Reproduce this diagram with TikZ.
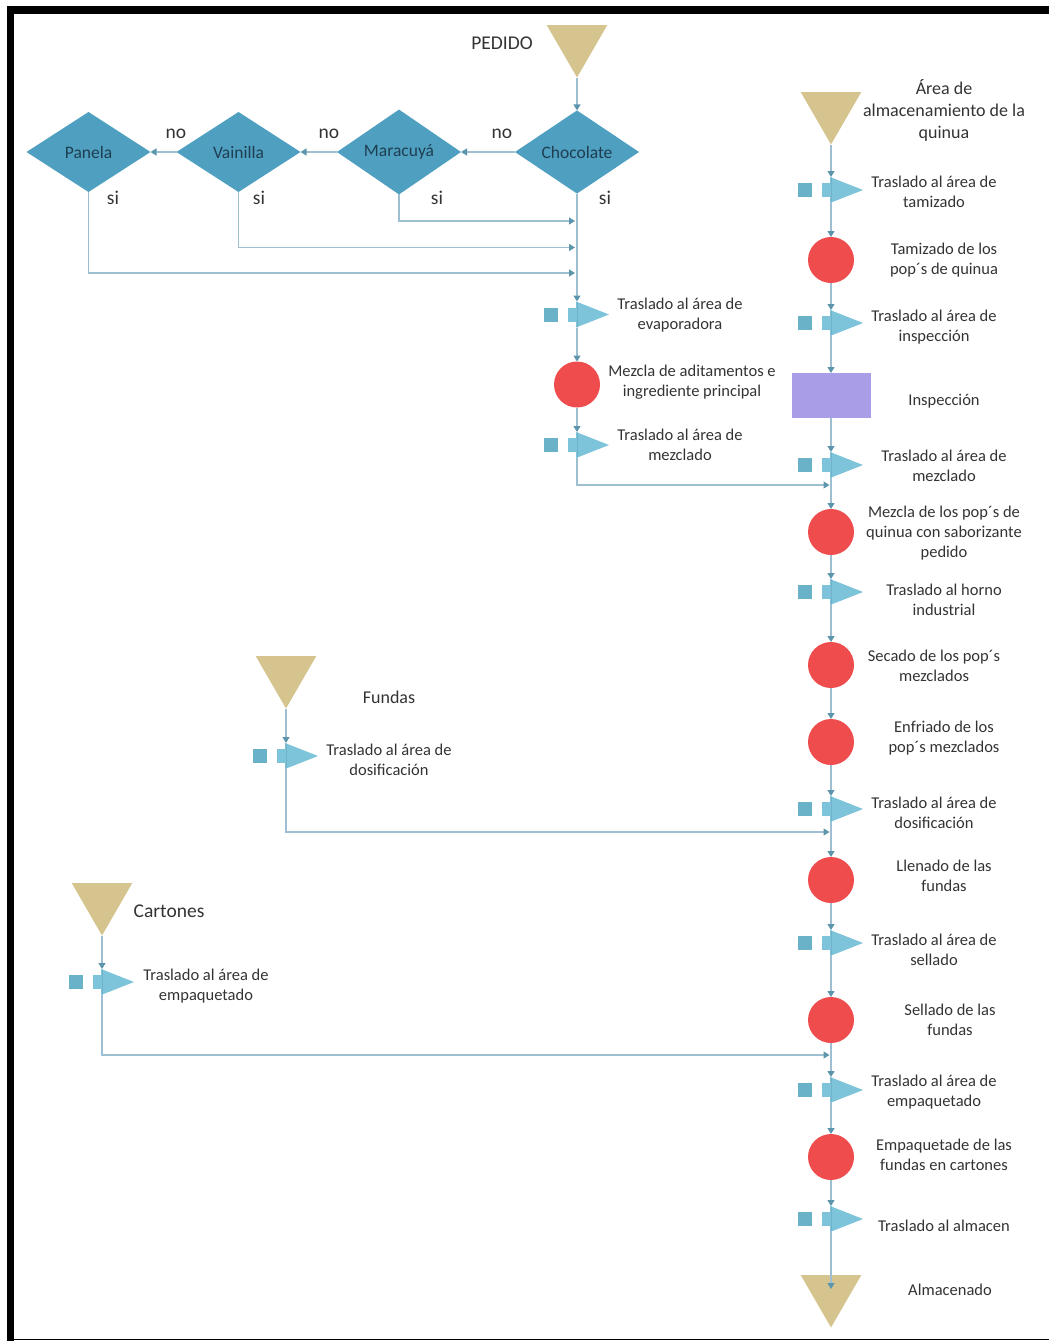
\documentclass[tikz,border=0pt]{standalone}
\usepackage{fontspec}
\setmainfont{Carlito}
\usetikzlibrary{shapes.geometric,arrows.meta}

\definecolor{decfill}{HTML}{4E9FC0}
\definecolor{storefill}{HTML}{D5C48E}
\definecolor{opfill}{HTML}{EF4D4D}
\definecolor{inspfill}{HTML}{A89DE6}
\definecolor{movefill}{HTML}{7DC3DA}
\definecolor{movesq}{HTML}{6AB2C8}
\definecolor{linecol}{HTML}{9DBFD1}
\definecolor{tipcol}{HTML}{5D95AD}
\definecolor{txt}{HTML}{333333}
\definecolor{dectxt}{HTML}{1F3E52}

\begin{document}
\begin{tikzpicture}[x=1pt,y=-1pt,
  conn/.style={draw=linecol, line width=1.3pt,
    -{Triangle[width=7pt,length=6pt,color=tipcol,fill=tipcol]}},
  through/.style={draw=tipcol, line width=1pt, opacity=0.35},
  decision/.style={diamond, fill=decfill, minimum width=124pt, minimum height=80pt,
    inner sep=0pt, outer sep=0pt, text=dectxt, font=\fontsize{17.5}{20}\selectfont},
  store/.style={regular polygon, regular polygon sides=3, shape border rotate=180,
    fill=storefill, minimum size=70pt, inner sep=0pt, outer sep=0pt},
  operation/.style={circle, fill=opfill, minimum size=46pt, inner sep=0pt, outer sep=0pt},
  inspect/.style={rectangle, fill=inspfill, minimum width=79pt, minimum height=45pt,
    inner sep=0pt, outer sep=0pt},
  move/.style={rectangle, draw=none, minimum width=66pt, minimum height=26pt,
    inner sep=0pt, outer sep=0pt,
    path picture={
      \fill[movesq] ([shift={(0pt,6pt)}]path picture bounding box.south west)
        rectangle ++(14pt,14pt);
      \fill[movefill] ([shift={(24pt,6pt)}]path picture bounding box.south west)
        rectangle ++(9pt,14pt);
      \fill[movefill] ([shift={(32pt,0pt)}]path picture bounding box.south west)
        -- ([shift={(32pt,26pt)}]path picture bounding box.south west)
        -- ([shift={(65pt,13pt)}]path picture bounding box.south west) -- cycle;
    }},
  lbl/.style={align=center, inner sep=0pt, text=txt, font=\fontsize{16.5}{20}\selectfont},
  biglbl/.style={align=center, inner sep=0pt, text=txt, font=\fontsize{19.5}{22}\selectfont},
  midlbl/.style={align=center, inner sep=0pt, text=txt, font=\fontsize{18}{22}\selectfont}
]
\useasboundingbox (0,0) rectangle (1049,1341);

% page frame
\fill[black] (7,6) rectangle (1049,14);
\fill[black] (7,6) rectangle (14,1341);
\draw[black, line width=1.5pt] (7,1339.5) -- (1049,1339.5);

% ---------- order branch ----------
\node[store] (pedido) at (577,42.5) {};
\node[biglbl] (tpedido) at (502,43) {PEDIDO};

\node[decision] (choc) at (577,152) {Chocolate};
\node[decision] (mara) at (399,152) {Maracuyá};
\node[decision] (vain) at (238.5,152) {Vainilla};
\node[decision] (pane) at (88.5,152) {Panela};

\node[biglbl] (no1) at (502,134) {no};
\node[biglbl] (no2) at (329,134) {no};
\node[biglbl] (no3) at (176,134) {no};
\node[biglbl] (si1) at (605,198) {si};
\node[biglbl] (si2) at (437,198) {si};
\node[biglbl] (si3) at (259,198) {si};
\node[biglbl] (si4) at (113,198) {si};

\coordinate (j1) at (575,221);
\coordinate (j2) at (575,247.5);
\coordinate (j3) at (575,273);

\node[move] (mvevap) at (577,314.5) {};
\node[lbl] (tmvevap) at (680,315) {Traslado al área de\\evaporadora};
\node[operation] (opmix) at (577,384.5) {};
\node[lbl] (topmix) at (692,382) {Mezcla de aditamentos e\\ingrediente principal};
\node[move] (mvmix) at (577,445) {};
\node[lbl] (tmvmix) at (680,445) {Traslado al área de\\mezclado};

% ---------- main line ----------
\node[store] (area) at (831,109.5) {};
\node[midlbl] (tarea) at (944,110) {Área de\\almacenamiento de la\\quinua};

\node[move] (mv1) at (831,190) {};
\node[lbl] (tmv1) at (934,192) {Traslado al área de\\tamizado};
\node[operation] (op1) at (831,260) {};
\node[lbl] (top1) at (944,260) {Tamizado de los\\pop´s de quinua};
\node[move] (mv2) at (831,323) {};
\node[lbl] (tmv2) at (934,327) {Traslado al área de\\inspección};
\node[inspect] (insp) at (831.5,395.5) {};
\node[lbl] (tinsp) at (944,401) {Inspección};
\node[move] (mv3) at (831,465) {};
\node[lbl] (tmv3) at (944,466) {Traslado al área de\\mezclado};
\coordinate (m1) at (829.5,485);
\node[operation] (op2) at (831,532) {};
\node[lbl] (top2) at (944,533) {Mezcla de los pop´s de\\quinua con saborizante\\pedido};
\node[move] (mv4) at (831,592) {};
\node[lbl] (tmv4) at (944,600) {Traslado al horno\\industrial};
\node[operation] (op3) at (831,665) {};
\node[lbl] (top3) at (934,666) {Secado de los pop´s\\mezclados};
\node[operation] (op4) at (831,742) {};
\node[lbl] (top4) at (944,738) {Enfriado de los\\pop´s mezclados};
\node[move] (mv5) at (831,809) {};
\node[lbl] (tmv5) at (934,813) {Traslado al área de\\dosificación};
\coordinate (m2) at (829.5,832);
\node[operation] (op5) at (831,880) {};
\node[lbl] (top5) at (944,876) {Llenado de las\\fundas};
\node[move] (mv6) at (831,943) {};
\node[lbl] (tmv6) at (934,950) {Traslado al área de\\sellado};
\node[operation] (op6) at (831,1020) {};
\node[lbl] (top6) at (950,1020) {Sellado de las\\fundas};
\coordinate (m3) at (829.5,1055);
\node[move] (mv7) at (831,1090) {};
\node[lbl] (tmv7) at (934,1092) {Traslado al área de\\empaquetado};
\node[operation] (op7) at (831,1157) {};
\node[lbl] (top7) at (944,1155) {Empaquetade de las\\fundas en cartones};
\node[move] (mv8) at (831,1219) {};
\node[lbl] (tmv8) at (944,1226) {Traslado al almacen};
\node[store] (alm) at (831,1292.5) {};
\node[lbl] (talm) at (950,1290) {Almacenado};

% ---------- bags ----------
\node[store] (fundas) at (286,673.5) {};
\node[midlbl] (tfundas) at (389,697) {Fundas};
\node[move] (mvf) at (286,756) {};
\node[lbl] (tmvf) at (389,760) {Traslado al área de\\dosificación};

% ---------- cartons ----------
\node[store] (cart) at (102,900.5) {};
\node[biglbl] (tcart) at (169,911) {Cartones};
\node[move] (mvc) at (102,982) {};
\node[lbl] (tmvc) at (206,986) {Traslado al área de\\empaquetado};

% the flow line shows faintly across each transport symbol
\foreach \m in {mvevap,mvmix,mv1,mv2,mv3,mv4,mv5,mv6,mv7,mv8,mvf,mvc}
  \draw[through] (\m.north) -- (\m.south);

% ---------- connectors ----------
\draw[conn] (pedido.south) -- (choc.north);
\draw[conn] (choc.west) -- (mara.east);
\draw[conn] (mara.west) -- (vain.east);
\draw[conn] (vain.west) -- (pane.east);
\draw[conn] (mara.south) |- (j1);
\draw[conn] (vain.south) |- (j2);
\draw[conn] (pane.south) |- (j3);
\draw[conn] (choc.south) -- (mvevap.north);
\draw[conn] (mvevap.south) -- (opmix.north);
\draw[conn] (opmix.south) -- (mvmix.north);
\draw[conn] (mvmix.south) |- (m1);

\draw[conn] (area.south) -- (mv1.north);
\draw[conn] (mv1.south) -- (op1.north);
\draw[conn] (op1.south) -- (mv2.north);
\draw[conn] (mv2.south) -- (insp.north -| mv2.south);
\draw[conn] (insp.south -| mv3.north) -- (mv3.north);
\draw[conn] (mv3.south) -- (op2.north);
\draw[conn] (op2.south) -- (mv4.north);
\draw[conn] (mv4.south) -- (op3.north);
\draw[conn] (op3.south) -- (op4.north);
\draw[conn] (op4.south) -- (mv5.north);
\draw[conn] (mv5.south) -- (op5.north);
\draw[conn] (op5.south) -- (mv6.north);
\draw[conn] (mv6.south) -- (op6.north);
\draw[conn] (op6.south) -- (mv7.north);
\draw[conn] (mv7.south) -- (op7.north);
\draw[conn] (op7.south) -- (mv8.north);
\draw[conn] (mv8.south) -- ([yshift=-14pt]alm.north);

\draw[conn] (fundas.south) -- (mvf.north);
\draw[conn] (mvf.south) |- (m2);
\draw[conn] (cart.south) -- (mvc.north);
\draw[conn] (mvc.south) |- (m3);
\end{tikzpicture}
\end{document}
